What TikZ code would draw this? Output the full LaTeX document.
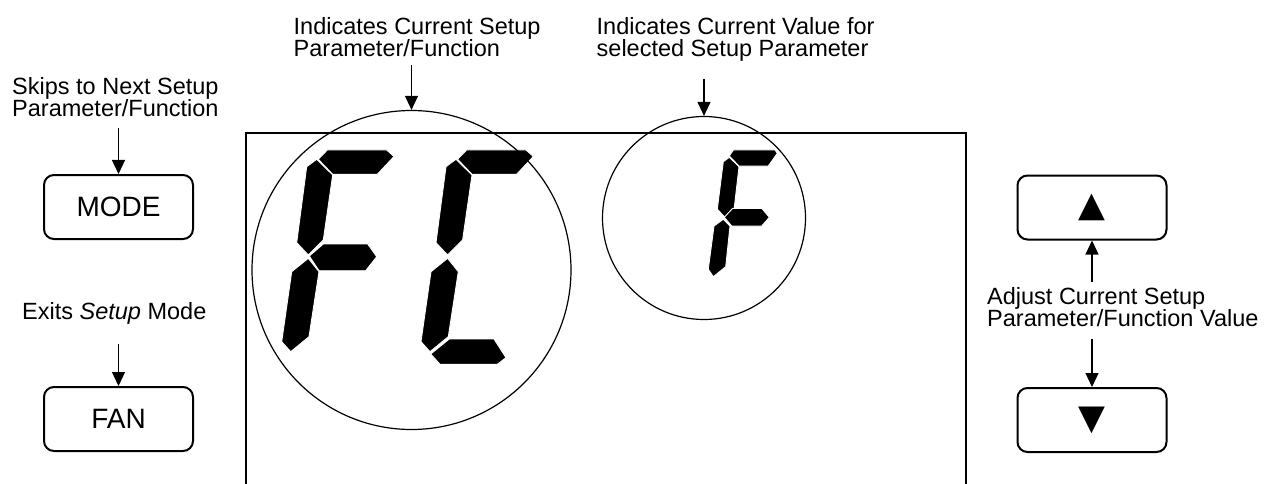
\documentclass[tikz,border=0pt]{standalone}
\usepackage{fontspec}
\setmainfont{Liberation Sans}
\newfontfamily\symfont{DejaVu Sans}
\usetikzlibrary{arrows.meta}
\tikzset{
  lbl/.style={anchor=north west, align=left, inner sep=0pt, font=\fontsize{23.5}{22}\selectfont},
  button/.style={draw, line width=2pt, rounded corners=10pt, minimum width=149pt, minimum height=64pt, inner sep=0pt, font=\fontsize{28}{28}\selectfont},
  ring/.style={circle, draw, line width=1.2pt, inner sep=0pt},
  pointer/.style={-{Triangle[length=14pt,width=13pt]}, line width=1.2pt},
  seg/.style={fill=black, draw=white, line width=0.9pt}
}

\begin{document}
\begin{tikzpicture}[x=1pt,y=-1pt]
\useasboundingbox (0,0) rectangle (1269,484);
% display window
\draw[line width=1.4pt] (246,490) -- (246,133) -- (966,133) -- (966,490);
% big digits: F and C share the top and the two left segments
\foreach \dx in {0,139.3}{
  \begin{scope}[xshift=\dx]
    \filldraw[seg] (327.3,150) -- (386.7,150) -- (394,156.5) -- (377.3,174.3) -- (332.7,174.3) -- (318.3,159.3) -- cycle;
    \filldraw[seg] (316.7,159.3) -- (332.7,175) -- (323.3,240) -- (308.3,255) -- (296.7,242.7) -- (306.7,166.7) -- cycle;
    \filldraw[seg] (308.3,258.3) -- (319,271.7) -- (309,336.7) -- (290.7,351.7) -- (281.7,341.7) -- (291.7,271.7) -- cycle;
  \end{scope}
}
\filldraw[seg] (309.3,256) -- (323.3,244) -- (367.7,244) -- (376.7,256.7) -- (365.7,270.7) -- (319,270.7) -- cycle;
\filldraw[seg] (430.7,354) -- (449.3,339) -- (494,339) -- (506,357.7) -- (497.3,364.3) -- (440,364.3) -- cycle;
% small digit F
\filldraw[seg] (733.3,150) -- (775,150) -- (777.3,153.3) -- (768.3,166) -- (739,166) -- (729.3,156) -- cycle;
\filldraw[seg] (729.3,157.3) -- (739,166.7) -- (734,210) -- (725,217.3) -- (717.3,209.3) -- (723.3,161.7) -- cycle;
\filldraw[seg] (724.3,217.3) -- (732.7,208.3) -- (761.7,208.3) -- (769.3,217.3) -- (761.7,226) -- (731.7,226) -- cycle;
\filldraw[seg] (723.3,219.3) -- (730,226) -- (725.7,266.7) -- (713.3,276.7) -- (708.3,269.3) -- (714,226) -- cycle;
% rings
\node[ring, minimum size=319pt] (setring) at (411.5,270) {};
\node[ring, minimum size=203pt] (valring) at (704,218) {};
% labels
\node[lbl] (setlbl) at (293.5,17.5) {Indicates Current Setup\\Parameter/Function};
\node[lbl] (vallbl) at (596.5,17.5) {Indicates Current Value for\\selected Setup Parameter};
\node[lbl] (skiplbl) at (12,77.5) {Skips to Next Setup\\Parameter/Function};
\node[lbl] (exitlbl) at (22,302.5) {Exits \textit{Setup} Mode};
\node[lbl] (adjlbl) at (987,287.5) {Adjust Current Setup\\Parameter/Function Value};
% buttons
\node[button] (mode) at (118.5,207) {MODE};
\node[button] (fan) at (118.5,419) {FAN};
\node[button] (up) at (1092,207.5) {\symfont\fontsize{35}{35}\selectfont ▲};
\node[button] (down) at (1092,420) {\symfont\fontsize{35}{35}\selectfont ▼};
% pointers
\draw[pointer, shorten <=8pt] (setring.north |- setlbl.south) -- (setring.north);
\draw[pointer, shorten <=17pt] (valring.north |- vallbl.south) -- (valring.north);
\draw[pointer, shorten <=11pt] (mode.north |- skiplbl.south) -- (mode.north);
\draw[pointer, shorten <=19pt] (fan.north |- exitlbl.south) -- (fan.north);
\draw[pointer, shorten <=5.5pt] (up.south |- adjlbl.north) -- (up.south);
\draw[pointer, shorten <=12pt] (down.north |- adjlbl.south) -- (down.north);
\end{tikzpicture}
\end{document}
